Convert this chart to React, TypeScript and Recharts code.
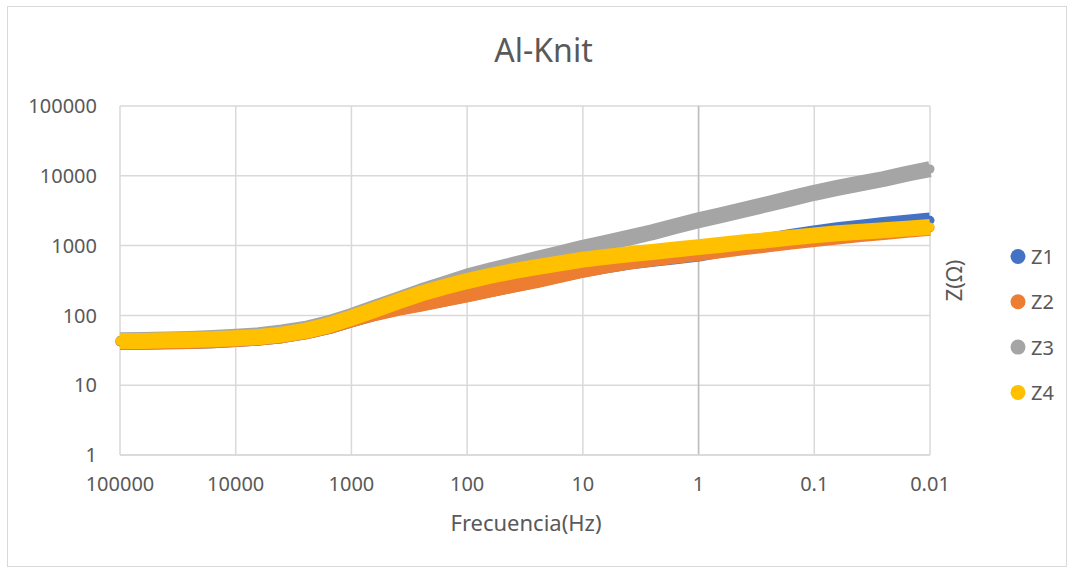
import { ScatterChart, Scatter, XAxis, YAxis, ZAxis, CartesianGrid, ReferenceLine } from 'recharts';

// impedance sweep, high to low frequency (5 points per decade)
const freqHz = [
  100000, 63096, 39811, 25119, 15849, 10000, 6310, 3981, 2512, 1585,
  1000, 631, 398, 251, 158.5, 100, 63.1, 39.8, 25.1, 15.85,
  10, 6.31, 3.98, 2.51, 1.585, 1, 0.631, 0.398, 0.251, 0.1585,
  0.1, 0.0631, 0.0398, 0.0251, 0.01585, 0.01,
];

const z1 = [
  42, 42, 42.5, 43, 44, 46, 48, 52, 59, 70,
  88, 109, 130, 150, 174, 203, 238, 278, 324, 385,
  455, 522, 590, 645, 705, 770, 880, 1020, 1170, 1330,
  1500, 1660, 1810, 1970, 2130, 2300,
];

const z2 = [
  42, 42, 42.5, 43, 44, 46, 48, 52, 59, 70,
  88, 108, 128, 148, 172, 200, 235, 275, 320, 380,
  450, 520, 590, 650, 715, 780, 860, 950, 1040, 1140,
  1240, 1350, 1460, 1570, 1680, 1800,
];

const z3 = [
  44, 44.5, 45, 46, 47.5, 49.5, 52, 57, 64, 77,
  98, 128, 168, 220, 280, 360, 440, 530, 640, 770,
  930, 1100, 1300, 1550, 1900, 2300, 2750, 3300, 3950, 4750,
  5700, 6700, 7800, 9000, 10700, 12500,
];

const z4 = [
  43, 43, 44, 44.5, 45.5, 47, 49, 53, 60, 72,
  92, 120, 158, 205, 255, 310, 370, 430, 490, 555,
  630, 690, 750, 810, 880, 950, 1030, 1120, 1200, 1300,
  1400, 1500, 1580, 1660, 1750, 1850,
];

const series = [
  { name: 'Z1', color: '#4472C4', values: z1 },
  { name: 'Z2', color: '#ED7D31', values: z2 },
  { name: 'Z3', color: '#A5A5A5', values: z3 },
  { name: 'Z4', color: '#FFC000', values: z4 },
];

const xTicks = [100000, 10000, 1000, 100, 10, 1, 0.1, 0.01];
const yTicks = [1, 10, 100, 1000, 10000, 100000];

const W = 1073;
const H = 569;
const font = '"Noto Sans", "Open Sans", sans-serif';
const ink = '#595959';
const grid = '#d9d9d9';

export default function App() {
  return (
    <div style={{ position: 'absolute', left: 0, top: 0, width: W, height: H, background: '#fff' }}>
      {/* frame around the chart */}
      <div
        style={{
          position: 'absolute',
          left: 7,
          top: 6,
          width: 1058,
          height: 559,
          border: `1px solid ${grid}`,
        }}
      />
      <ScatterChart width={W} height={H} margin={{ top: 106, right: 143, bottom: 113, left: 119 }}>
        <CartesianGrid stroke={grid} strokeWidth={1.5} />
        <XAxis
          type="number"
          dataKey="f"
          scale="log"
          domain={[0.01, 100000]}
          reversed
          ticks={xTicks}
          interval={0}
          height={1}
          tickLine={false}
          tickSize={0}
          tickMargin={22}
          axisLine={{ stroke: grid, strokeWidth: 1.5 }}
          tickFormatter={(v: number) => String(v)}
          tick={{ fill: ink, fontSize: 20, fontFamily: font }}
        />
        <YAxis
          type="number"
          dataKey="z"
          scale="log"
          domain={[1, 100000]}
          ticks={yTicks}
          interval={0}
          width={1}
          axisLine={false}
          tickLine={false}
          tickSize={0}
          tickMargin={23}
          tickFormatter={(v: number) => String(v)}
          tick={{ fill: ink, fontSize: 20, fontFamily: font }}
        />
        {/* marker area ~ 16px wide circles */}
        <ZAxis range={[201, 201]} />
        {/* value axis crosses at 1 Hz */}
        <ReferenceLine x={1} stroke="#bfbfbf" strokeWidth={1.5} />
        {series.map((s) => (
          <Scatter
            key={s.name}
            name={s.name}
            data={freqHz.map((f, i) => ({ f, z: s.values[i] }))}
            fill={s.color}
            shape="circle"
            line={{ stroke: s.color, strokeWidth: 16, strokeLinejoin: 'round' }}
            lineType="joint"
            isAnimationActive={false}
          />
        ))}
      </ScatterChart>
      <svg
        width={W}
        height={H}
        style={{ position: 'absolute', left: 0, top: 0, pointerEvents: 'none' }}
        fontFamily={font}
        fill={ink}
      >
        <text x={543.5} y={62} textAnchor="middle" fontSize={32}>
          Al-Knit
        </text>
        <text x={526} y={531} textAnchor="middle" fontSize={22}>
          Frecuencia(Hz)
        </text>
        <text
          transform="translate(952.5, 280.5) rotate(-90)"
          textAnchor="middle"
          dominantBaseline="central"
          fontSize={22}
        >
          Z(Ω)
        </text>
        {series.map((s, i) => (
          <g key={s.name}>
            <circle cx={1018} cy={256.5 + i * 45.3} r={7.5} fill={s.color} />
            <text x={1031} y={256.5 + i * 45.3} dominantBaseline="central" fontSize={20}>
              {s.name}
            </text>
          </g>
        ))}
      </svg>
    </div>
  );
}
